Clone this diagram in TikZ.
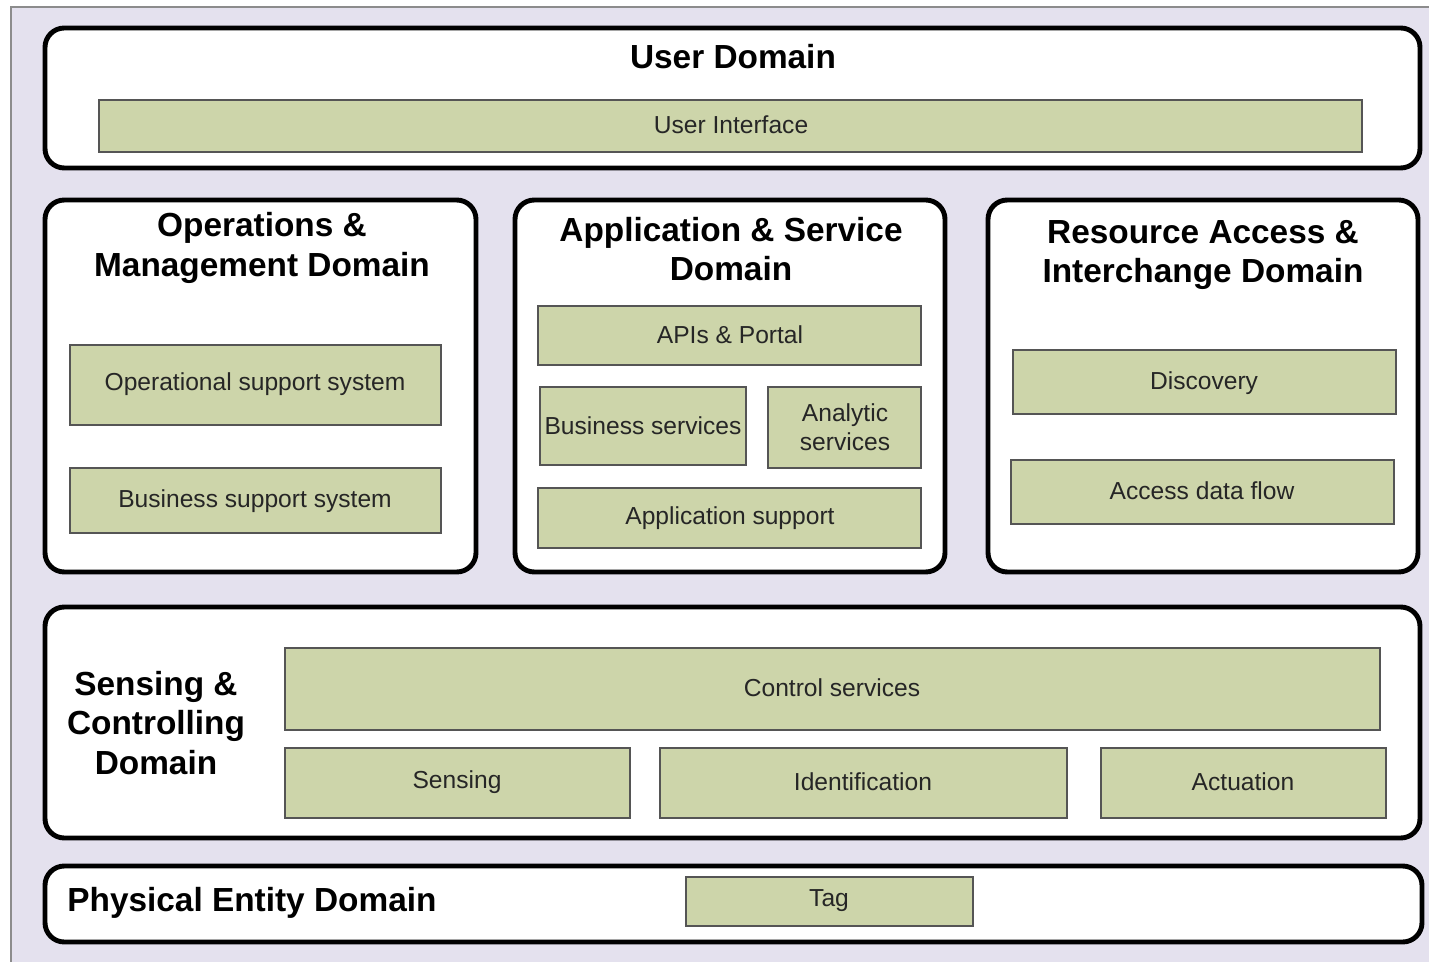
\documentclass[tikz,border=0pt]{standalone}
\usepackage{fontspec}
\setmainfont{Liberation Sans}
\definecolor{lav}{HTML}{E4E1EE}
\definecolor{grn}{HTML}{CDD5AA}
\definecolor{grnb}{HTML}{555555}
\definecolor{frm}{HTML}{8C8C8C}
\tikzset{
  dombox/.style={draw=black, line width=2.8pt, fill=white, rounded corners=11pt},
  comp/.style={draw=grnb, line width=1.1pt, fill=grn, inner sep=0pt},
  ttl/.style={font=\fontsize{19}{22.5}\selectfont\bfseries, align=center, inner sep=0pt},
  ctext/.style={font=\fontsize{14}{16.5}\selectfont, align=center, inner sep=0pt, text=black!85}
}
\begin{document}
\begin{tikzpicture}[x=0.02cm, y=-0.02cm]
\useasboundingbox (0,0) rectangle (1429,962);
\fill[lav] (11,7) rectangle (1429,962);
\draw[frm, line width=1.2pt] (11,962) -- (11,7) -- (1429,7);
% User domain
\draw[dombox] (45,28) rectangle (1420,168);
\node[ttl] (ud) at (733,57) {User Domain};
\draw[comp] (99,100) rectangle (1362,152);
\node[ctext] (ui) at (731,125) {User Interface};
% O&M
\draw[dombox] (45,200) rectangle (476,572);
\node[ttl] (om) at (262,248) {Operations \&\\Management Domain};
\draw[comp] (70,345) rectangle (441,425);
\node[ctext] (oss) at (255,384) {Operational support system};
\draw[comp] (70,468) rectangle (441,533);
\node[ctext] (bss) at (255,501) {Business support system};
% A&S
\draw[dombox] (515,200) rectangle (945,572);
\node[ttl] (as) at (731,249) {Application \& Service\\Domain};
\draw[comp] (538,306) rectangle (921,365);
\node[ctext] (api) at (730,335) {APIs \& Portal};
\draw[comp] (540,387) rectangle (746,465);
\node[ctext] (bs) at (643,426) {Business services};
\draw[comp] (768,387) rectangle (921,468);
\node[ctext] (an) at (845,427) {Analytic\\services};
\draw[comp] (538,488) rectangle (921,548);
\node[ctext] (aps) at (730,518) {Application support};
% RA&I
\draw[dombox] (988,200) rectangle (1418,572);
\node[ttl] (ra) at (1203,255) {Resource Access \&\\Interchange Domain};
\draw[comp] (1013,350) rectangle (1396,414);
\node[ctext] (disc) at (1204,383) {Discovery};
\draw[comp] (1011,460) rectangle (1394,524);
\node[ctext] (adf) at (1202,491) {Access data flow};
% S&C
\draw[dombox] (45,607) rectangle (1420,838);
\node[ttl] (sc) at (156,723) {Sensing \&\\Controlling\\Domain};
\draw[comp] (285,648) rectangle (1380,730);
\node[ctext] (cs) at (832,688) {Control services};
\draw[comp] (285,748) rectangle (630,818);
\node[ctext] (sen) at (457,782) {Sensing};
\draw[comp] (660,748) rectangle (1067,818);
\node[ctext] (idf) at (863,782) {Identification};
\draw[comp] (1101,748) rectangle (1386,818);
\node[ctext] (act) at (1243,782) {Actuation};
% Physical
\draw[dombox] (45,866) rectangle (1422,942);
\node[ttl, anchor=west] (pe) at (67,903) {Physical Entity Domain};
\draw[comp] (686,877) rectangle (973,926);
\node[ctext] (tag) at (829,901) {Tag};
\end{tikzpicture}
\end{document}
